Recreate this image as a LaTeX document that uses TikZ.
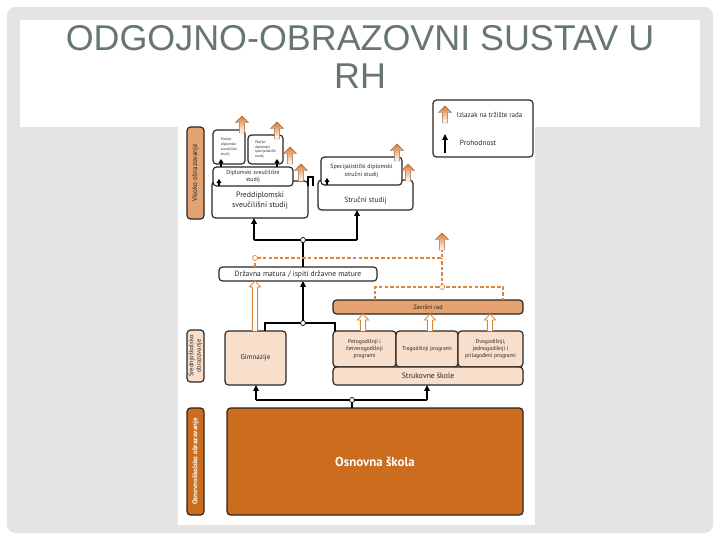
\documentclass[tikz,border=0pt]{standalone}
\usepackage{fontspec}
\setmainfont{PT Sans}
\newfontfamily\titlefont{Liberation Sans}
\usetikzlibrary{arrows.meta,calc}
\definecolor{tanc}{HTML}{E3A26F}
\definecolor{peach}{HTML}{F7DFCB}
\definecolor{osnc}{HTML}{CB6C1E}
\definecolor{orln}{HTML}{D9893D}
\definecolor{dk}{HTML}{2B2622}
\definecolor{ttl}{HTML}{667770}
\definecolor{framec}{HTML}{E4E4E4}
\definecolor{exitor}{HTML}{E07A2E}
\definecolor{exitdr}{HTML}{9A6B4B}
\newcommand{\fs}[2]{\fontsize{#1}{#2}\selectfont}
\newcommand{\bx}[7]{\node[#6, anchor=north west, inner sep=0pt, outer sep=0pt,
  minimum width={(#4-#2)*0.025cm}, minimum height={(#5-#3)*0.025cm}] (#1) at (#2,#3) {#7};}
\newcommand{\lb}[7]{\node[#6, rotate=90, inner sep=0pt, outer sep=0pt,
  minimum width={(#5-#3)*0.025cm}, minimum height={(#4-#2)*0.025cm}] (#1) at ({(#2+#4)/2},{(#3+#5)/2}) {#7};}
\newcommand{\exitarr}[2]{\shade[top color=exitor, bottom color=white, draw=exitdr, line width=0.3pt]
  (#1-2.6,#2+17) -- (#1-2.6,#2+6.5) -- (#1-6.5,#2+6.5) -- (#1,#2) -- (#1+6.5,#2+6.5) -- (#1+2.6,#2+6.5) -- (#1+2.6,#2+17) -- cycle;}
\newcommand{\holarr}[3]{\filldraw[fill=white, draw=orln, line width=0.6pt, line join=miter]
  (#1-2.6,#2) -- (#1-2.6,#3+6) -- (#1-5.6,#3+6) -- (#1,#3) -- (#1+5.6,#3+6) -- (#1+2.6,#3+6) -- (#1+2.6,#2);}
\begin{document}
\begin{tikzpicture}[x=0.025cm, y=-0.025cm,
  box/.style={draw=dk, line width=0.85pt, rounded corners=2.5pt, fill=white, align=center, text=black!85},
  lab/.style={draw=dk, line width=0.85pt, rounded corners=2.5pt, align=center, text=black!85, font=\fs{4.6}{5.3}},
  con/.style={draw=black, line width=0.75pt},
  arr/.style={con, -{Triangle[length=4.2pt,width=4pt]}},
  sarr/.style={con, -{Triangle[length=3pt,width=3.6pt]}},
  dsh/.style={draw=orln, line width=0.8pt, dash pattern=on 2.5pt off 1.5pt},
  jc/.style={circle, draw=black, fill=white, inner sep=0pt, minimum size=3.6pt, line width=0.5pt},
  ojc/.style={jc, draw=orln},
  ttlsty/.style={font=\titlefont\fontsize{25.5}{28}\selectfont, text=ttl, inner sep=0pt}]
\useasboundingbox (0,0) rectangle (720,540);
\fill[white] (0,0) rectangle (720,540);
\fill[framec, rounded corners=6pt] (7,7) rectangle (713,533);
\fill[white] (20,20) rectangle (700,127);
\fill[white] (178,100) rectangle (535,525);

% title
\node[ttlsty, anchor=base] (t1) at (360,50) {ODGOJNO-OBRAZOVNI SUSTAV U};
\node[ttlsty, anchor=base] (t2) at (360,88) {RH};

% higher education
\lb{lvis}{187}{127}{204}{219}{lab, fill=tanc, font=\fs{5}{6}}{Visoko obrazovanje}
\bx{pred}{212}{181}{308}{218}{box, font=\fs{5.6}{6.8}}{\\[-1pt]Preddiplomski\\sveučilišni studij}
\bx{dipl}{213}{167}{293}{186}{box, font=\fs{4.2}{5.2}}{Diplomski sveučilišni\\studij}
\bx{posA}{213}{130}{245}{164}{box, font=\fs{2.6}{3.4}}{\begin{tabular}{@{}l@{}}Poslije-\\diplomski\\sveučilišni\\studij\end{tabular}}
\bx{posB}{248}{135}{283}{164}{box, font=\fs{2.6}{3.4}}{\begin{tabular}{@{}l@{}}Poslije-\\diplomski\\specijalistički\\studij\end{tabular}}
\bx{stru}{318}{180}{413}{210}{box}{}
\node[font=\fs{5.3}{6.4}, text=black!85] (strut) at (365.5,201) {Stručni studij};
\bx{spec}{321}{157}{402}{185}{box, font=\fs{4.3}{5.6}}{Specijalistički diplomski\\stručni studij}

% legend
\bx{leg}{433}{100}{533}{157}{box}{}
\exitarr{445}{106}
\node[font=\fs{5}{6}, text=black!85, anchor=west] (legA) at (452,115) {Izlazak na tržište rada};
\coordinate (lg0) at (445,153);
\coordinate (lg1) at (445,134);
\draw[arr] (lg0) -- (lg1);
\node[font=\fs{5.3}{6}, text=black!85, anchor=west] (legB) at (455,143) {Prohodnost};

% matura, zavrsni
\bx{mat}{219}{267}{377}{281}{box, font=\fs{5.4}{6.4}}{Državna matura / ispiti državne mature}
\bx{zav}{333}{300}{523}{314}{box, fill=tanc, font=\fs{4.4}{5.4}}{Završni rad}

% secondary
\lb{lsred}{187}{330}{204}{382}{lab, fill=peach, font=\fs{4.6}{5.4}}{Srednjoškolsko\\obrazovanje}
\bx{gim}{225}{331}{286}{385}{box, fill=peach, font=\fs{5}{6}}{Gimnazije}
\bx{pr1}{333}{331}{396}{367}{box, fill=peach, font=\fs{4}{5.1}}{Petogodišnji i\\četverogodišnji\\programi}
\bx{pr2}{396}{331}{458}{367}{box, fill=peach, font=\fs{4}{5.1}}{Trogodišnji programi}
\bx{pr3}{458}{331}{523}{367}{box, fill=peach, font=\fs{4}{5.1}}{Dvogodišnji,\\jednogodišnji i\\prilagođeni programi}
\bx{struk}{333}{367}{523}{385}{box, fill=peach, font=\fs{5.5}{6.5}}{Strukovne škole}

% primary
\lb{losn}{187}{408}{204}{515}{lab, fill=osnc, text=white, font=\fs{5}{6}\bfseries}{Osnovnoškolsko obrazovanje}
\bx{osn}{227}{408}{523}{515}{box, fill=osnc, text=white, font=\fs{9.2}{11}\bfseries}{Osnovna škola}

% small arrows inside stacked boxes
\draw[sarr] (219,186) -- (219,179);
\draw[sarr] (221,167) -- (221,159);
\draw[sarr] (277,167) -- (277,159);
\draw[sarr] (327,185) -- (327,178);
% bracket between pred and stru
\coordinate (b1) at (308,177);
\coordinate (b2) at (313,177);
\draw[con] (308,186) -- (b1) -- (b2) -- (313,186);

% higher-ed admission
\coordinate (c1) at (303,240);
\coordinate (j1) at (254,240);
\coordinate (j2) at (357,240);
\draw[con] (j1) -- (j2);
\draw[arr] (j1) -- (j1 |- pred.south);
\draw[arr] (j2) -- (j2 |- stru.south);
\draw[con] (c1) -- (c1 |- mat.north);

% dashed exits
\coordinate (c2) at (255,258);
\coordinate (d1) at (442,258);
\coordinate (ex7) at (442,250);
\coordinate (c3) at (442,287);
\coordinate (d2) at (375,287);
\coordinate (d3) at (503,287);
\draw[dsh] (c2 |- mat.north) -- (c2) -- (d1) -- (ex7);
\draw[dsh] (c3) -- (d1);
\draw[dsh] (d2 |- zav.north) -- (d2) -- (d3) -- (d3 |- zav.north);

% hollow arrows
\holarr{255}{331}{281}
\holarr{363}{331}{314}
\holarr{430}{331}{314}
\holarr{490}{331}{314}

% secondary to matura
\coordinate (c4) at (303,323);
\coordinate (j3) at (265,323);
\coordinate (j4) at (335,323);
\draw[con] (j3 |- gim.north) -- (j3) -- (j4) -- (j4 |- pr1.north);
\draw[arr] (c4) -- (c4 |- mat.south);

% primary to secondary
\coordinate (c5) at (352,400);
\coordinate (j5) at (256,400);
\coordinate (j6) at (427,400);
\draw[con] (j5) -- (j6);
\draw[arr] (j5) -- (j5 |- gim.south);
\draw[arr] (j6) -- (j6 |- struk.south);
\draw[con] (c5) -- (c5 |- osn.north);

% exit arrows
\exitarr{242}{116}
\exitarr{277}{122}
\exitarr{290}{147}
\exitarr{301}{164}
\exitarr{397}{144}
\exitarr{408}{164}
\exitarr{442}{233}

% junction circles
\node[jc] (c1n) at (c1) {};
\node[jc] (c4n) at (c4) {};
\node[jc] (c5n) at (c5) {};
\node[ojc] (c2n) at (c2) {};
\node[ojc] (c3n) at (c3) {};
\end{tikzpicture}
\end{document}
